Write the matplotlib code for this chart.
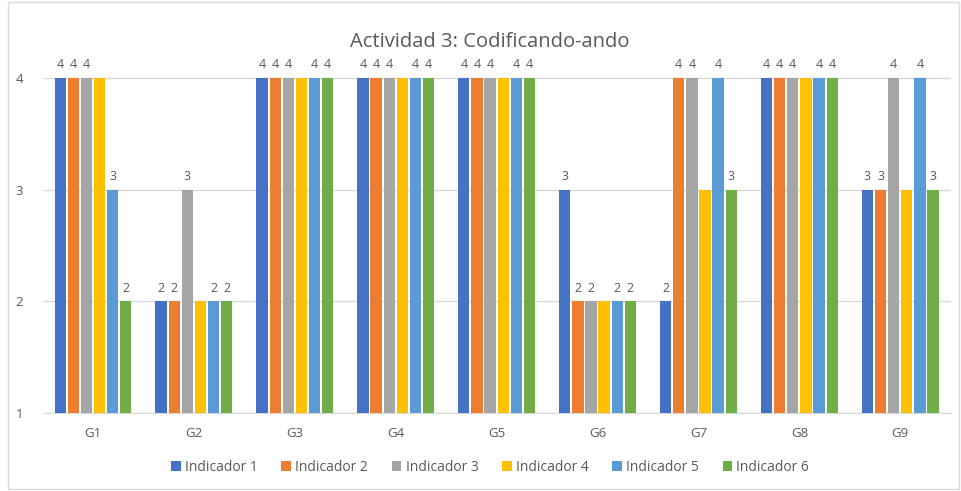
import matplotlib
matplotlib.use('Agg')
import matplotlib.pyplot as plt
import numpy as np
from matplotlib.patches import Rectangle

plt.rcParams['font.family'] = ['Open Sans', 'DejaVu Sans']

GROUPS = ['G1', 'G2', 'G3', 'G4', 'G5', 'G6', 'G7', 'G8', 'G9']
SERIES = ['Indicador 1', 'Indicador 2', 'Indicador 3',
          'Indicador 4', 'Indicador 5', 'Indicador 6']
IND1 = [4, 2, 4, 4, 4, 3, 2, 4, 3]
IND2 = [4, 2, 4, 4, 4, 2, 4, 4, 3]
IND3 = [4, 3, 4, 4, 4, 2, 4, 4, 4]
IND4 = [4, 2, 4, 4, 4, 2, 3, 4, 3]
IND5 = [3, 2, 4, 4, 4, 2, 4, 4, 4]
IND6 = [2, 2, 4, 4, 4, 2, 3, 4, 3]
VALUES = [IND1, IND2, IND3, IND4, IND5, IND6]
# Excel hid the data labels of Indicador 4 (overlap)
SHOW_LABELS = [True, True, True, False, True, True]

COLORS = ['#4472C4', '#ED7D31', '#A5A5A5', '#FFC000', '#5B9BD5', '#70AD47']
TEXT = '#595959'

fig = plt.figure(figsize=(9.61, 4.91), dpi=100)
ax = fig.add_axes([0.0443, 0.1589, 0.945, 0.7505])

x = np.arange(len(GROUPS))
w = 0.13
BASE = 1
for i, (name, vals, col) in enumerate(zip(SERIES, VALUES, COLORS)):
    pos = x + (i - 2.5) * w
    heights = [v - BASE for v in vals]
    ax.bar(pos, heights, width=w * 0.86, bottom=BASE, color=col, label=name, zorder=3)
    if SHOW_LABELS[i]:
        for p, v in zip(pos, vals):
            ax.text(p, v + 0.06, str(v), ha='center', va='bottom',
                    fontsize=9, color=TEXT)

ax.set_ylim(1, 4.3)
ax.set_xlim(-0.5, len(GROUPS) - 0.5)
ax.set_yticks([1, 2, 3, 4])
ax.set_xticks(x)
ax.set_xticklabels(GROUPS)
ax.tick_params(axis='both', length=0, labelsize=9.5, colors=TEXT)
ax.tick_params(axis='x', pad=10)
ax.tick_params(axis='y', pad=14)
ax.grid(axis='y', color='#D9D9D9', linewidth=1, zorder=0)
for s in ['top', 'right', 'left']:
    ax.spines[s].set_visible(False)
ax.spines['bottom'].set_color('#D9D9D9')

fig.text(0.51, 0.914, 'Actividad 3: Codificando-ando', ha='center', va='center',
         fontsize=14.5, color=TEXT)

ax.legend(loc='center', bbox_to_anchor=(0.51, 0.048), bbox_transform=fig.transFigure,
          ncol=6, frameon=False, fontsize=10, handlelength=0.7, handleheight=0.7,
          handletextpad=0.3, columnspacing=1.7, labelcolor=TEXT)

fig.patches.append(Rectangle((0.008, 0.005), 0.99, 0.99, transform=fig.transFigure,
                             fill=False, edgecolor='#D9D9D9', linewidth=1))

fig.savefig('out.png', dpi=100)
